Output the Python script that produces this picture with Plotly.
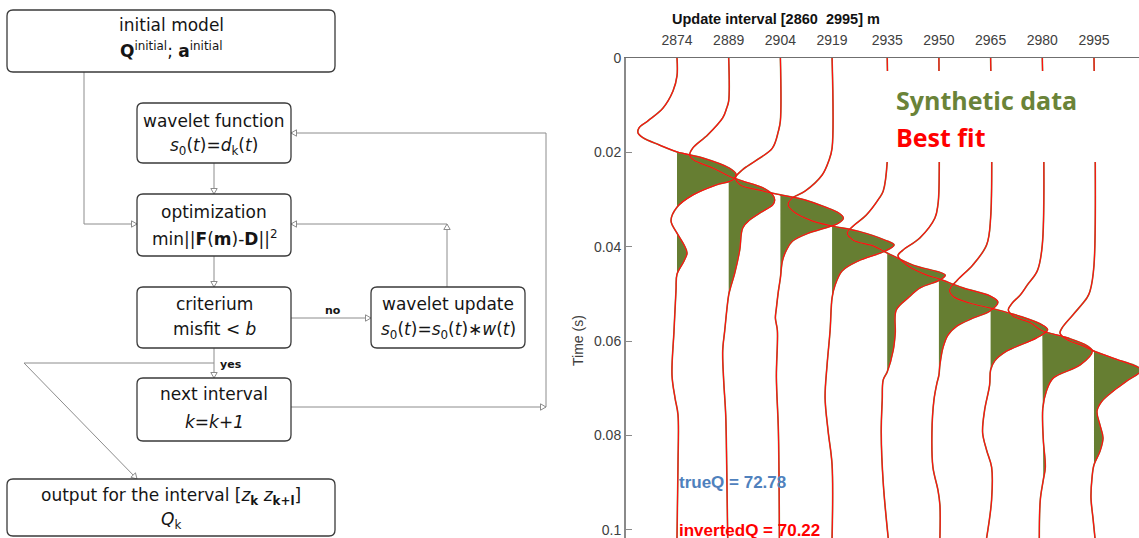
import plotly.graph_objects as go

W, H = 1139, 538

# ---------------- wiggle section: data ----------------
depths = [2874, 2889, 2904, 2919, 2935, 2950, 2965, 2980, 2995]
depth_labels = ["2874", "2889", "2904", "2919", "2935", "2950", "2965", "2980", "2995"]
time_ticks = [0, 0.02, 0.04, 0.06, 0.08, 0.1]
time_labels = ["0", "0.02", "0.04", "0.06", "0.08", "0.1"]

# per-trace samples: two-way time (s) and trace amplitude (arbitrary units)
time_2874 = [0, 0.0038, 0.0070, 0.0106, 0.0133, 0.0148, 0.0159, 0.0169, 0.0184, 0.0199, 0.0212, 0.0233,
             0.0246, 0.0258, 0.0269, 0.0290, 0.0316, 0.0345, 0.0371, 0.0396, 0.0413, 0.0430, 0.0458,
             0.0492, 0.0578, 0.0672, 0.0720, 0.0756, 0.0862, 0.1017]
amp_2874 = [0, 0, -0.4, -1.4, -2.9, -3.8, -3.9, -3.4, -1.8, 0, 2.6, 5.2,
            5.9, 5.6, 3.9, 1.6, 0, -0.6, 0, 0.7, 1.0, 0.7, 0,
            -0.1, -0.3, -0.5, -0.2, 0.1, 0.1, 0]

time_2889 = [0, 0.0091, 0.0106, 0.0127, 0.0163, 0.0191, 0.0206, 0.0216, 0.0233, 0.0250, 0.0261, 0.0275,
             0.0290, 0.0301, 0.0311, 0.0326, 0.0343, 0.0360, 0.0407, 0.0456, 0.0485, 0.0502, 0.0578,
             0.0621, 0.0684, 0.0756, 0.0862, 0.1017]
amp_2889 = [0, 0, -0.2, -0.6, -2.1, -3.6, -3.9, -3.5, -1.6, 0, 1.4, 3.4,
            4.4, 4.6, 4.4, 3.3, 2.1, 1.4, 1.1, 0.6, 0.2, 0, -0.4,
            -0.6, -0.5, -0.3, -0.2, -0.1]

time_2904 = [0, 0.0133, 0.0155, 0.0191, 0.0218, 0.0237, 0.0254, 0.0269, 0.0280, 0.0290, 0.0301, 0.0316,
             0.0328, 0.0339, 0.0350, 0.0360, 0.0371, 0.0388, 0.0407, 0.0430, 0.0466, 0.0494, 0.0530,
             0.0551, 0.0578, 0.0676, 0.0790, 0.1017]
amp_2904 = [0, 0, -0.2, -0.8, -2.5, -3.8, -4.5, -4.0, -2.1, 0, 2.5, 4.5,
            5.8, 6.3, 5.8, 4.5, 2.8, 1.2, 0.6, 0.2, 0, -0.2, -0.4,
            -0.5, -0.3, -0.4, -0.2, -0.1]

time_2919 = [0, 0.0191, 0.0216, 0.0248, 0.0282, 0.0297, 0.0311, 0.0328, 0.0345, 0.0356, 0.0367, 0.0386,
             0.0396, 0.0409, 0.0430, 0.0451, 0.0481, 0.0508, 0.0578, 0.0650, 0.0720, 0.0790, 0.0862,
             0.1017]
amp_2919 = [0, 0, -0.3, -1.0, -2.7, -4.0, -4.4, -3.7, -2.0, 0, 2.6, 5.3,
            6.2, 5.3, 2.6, 1.0, 0.3, 0, -0.2, -0.5, -0.7, -0.4, 0,
            0]

time_2935 = [0, 0.0220, 0.0282, 0.0297, 0.0333, 0.0356, 0.0371, 0.0386, 0.0398, 0.0413, 0.0439, 0.0460,
             0.0470, 0.0487, 0.0508, 0.0534, 0.0583, 0.0619, 0.0665, 0.0682, 0.0725, 0.0794, 0.0900,
             0.1017]
amp_2935 = [0, 0, -0.4, -0.8, -2.1, -3.4, -4.0, -3.4, -1.4, 0, 2.6, 5.8,
            5.3, 3.3, 2.1, 0.9, 0.8, 0.6, 0, -0.4, -0.5, -0.6, -0.4,
            0.1]

time_2950 = [0, 0.0282, 0.0311, 0.0339, 0.0381, 0.0407, 0.0419, 0.0439, 0.0460, 0.0468, 0.0487, 0.0504,
             0.0517, 0.0536, 0.0551, 0.0568, 0.0587, 0.0614, 0.0650, 0.0672, 0.0689, 0.0725, 0.0794,
             0.0867, 0.0915, 0.0947, 0.1017]
amp_2950 = [0, 0, -0.1, -0.4, -1.9, -3.6, -4.1, -3.2, -1.2, 0, 2.4, 5.1,
            5.9, 5.1, 3.4, 1.8, 0.9, 0.4, 0.1, 0, -0.2, -0.5, -0.7,
            -0.6, -0.1, 0.1, 0.1]

time_2965 = [0, 0.0339, 0.0396, 0.0439, 0.0470, 0.0492, 0.0506, 0.0519, 0.0530, 0.0547, 0.0566, 0.0576,
             0.0593, 0.0621, 0.0642, 0.0661, 0.0693, 0.0746, 0.0794, 0.0831, 0.0867, 0.0936, 0.1017]
amp_2965 = [0, 0, -0.4, -1.8, -3.3, -4.1, -3.7, -2.1, 0, 2.9, 5.2, 5.7,
            4.6, 1.6, 0.4, 0, -0.1, -0.6, -0.8, -0.4, 0.1, 0.1, -0.4]

time_2980 = [0, 0.0396, 0.0451, 0.0481, 0.0502, 0.0519, 0.0534, 0.0547, 0.0561, 0.0578, 0.0593, 0.0610,
             0.0621, 0.0650, 0.0678, 0.0706, 0.0742, 0.0809, 0.0867, 0.0894, 0.0936, 0.1017]
amp_2980 = [0, 0, -0.5, -1.5, -2.2, -3.0, -3.4, -2.9, -1.2, 0, 2.5, 4.5,
            5.0, 3.8, 1.1, 0.4, 0.05, 0.1, 0.3, 0.1, -0.2, -0.3]

time_2995 = [0, 0.0439, 0.0494, 0.0508, 0.0544, 0.0572, 0.0583, 0.0597, 0.0610, 0.0621, 0.0636, 0.0661,
             0.0684, 0.0706, 0.0727, 0.0748, 0.0778, 0.0805, 0.0833, 0.0862, 0.0890, 0.0932, 0.0975,
             0.1017]
amp_2995 = [0, 0, -0.4, -0.7, -2.1, -3.2, -3.4, -2.7, -1.1, 0, 1.9, 4.7,
            3.3, 1.9, 0.8, 0.3, 0.6, 0.9, 0.6, 0, -0.2, -0.3, -0.1,
            0.1]

trace_times = [time_2874, time_2889, time_2904, time_2919, time_2935,
               time_2950, time_2965, time_2980, time_2995]
trace_amps = [amp_2874, amp_2889, amp_2904, amp_2919, amp_2935,
              amp_2950, amp_2965, amp_2980, amp_2995]

true_q = 72.78
inverted_q = 70.22

GAIN = 2.9          # metres of offset per amplitude unit
FILL_GREEN = "#667e32"
LINE_RED = "#ff1010"
AXIS_GREY = "#8a8a8a"
TICK_TEXT = "#404040"
FLOW_LINE = "#8c8c8c"
BOX_EDGE = "#3a3a3a"
SANS = "Liberation Sans, Arial, sans-serif"
FLOW_FONT = "DejaVu Sans, Verdana, sans-serif"


def positive_lobes(t, a):
    """Split a trace into its positive excursions, each bounded by zero samples."""
    lobes, i, n = [], 0, len(a)
    while i < n:
        if a[i] > 0:
            j = i
            while j + 1 < n and a[j + 1] > 0:
                j += 1
            s = i - 1 if i > 0 and a[i - 1] == 0 else i
            e = j + 1 if j + 1 < n and a[j + 1] == 0 else j
            if max(a[i:j + 1]) >= 0.3:
                lobes.append((t[s:e + 1], a[s:e + 1]))
            i = j + 1
        else:
            i += 1
    return lobes


fig = go.Figure()

# positive lobes filled (variable-area display)
for d, t, a in zip(depths, trace_times, trace_amps):
    for lt, la in positive_lobes(t, a):
        fig.add_trace(go.Scatter(
            x=[d + GAIN * v for v in la], y=lt,
            mode="lines", line=dict(width=0, shape="spline"),
            fill="toself", fillcolor=FILL_GREEN, hoverinfo="skip"))

# synthetic data wiggles
for d, t, a in zip(depths, trace_times, trace_amps):
    fig.add_trace(go.Scatter(
        x=[d + GAIN * v for v in a], y=t, mode="lines",
        line=dict(color="#7a8a45", width=1.6, shape="spline"), hoverinfo="skip"))

# best-fit wiggles on top
for d, t, a in zip(depths, trace_times, trace_amps):
    fig.add_trace(go.Scatter(
        x=[d + GAIN * v for v in a], y=t, mode="lines",
        line=dict(color=LINE_RED, width=1.2, shape="spline"), hoverinfo="skip"))

x_lo, x_hi = 2859.2, 3008.06
fig.update_layout(
    width=W, height=H,
    margin=dict(l=0, r=0, t=0, b=0),
    paper_bgcolor="white", plot_bgcolor="white",
    showlegend=False,
    xaxis=dict(domain=[626 / W, 1], range=[x_lo, x_hi], side="top",
               tickvals=depths, ticktext=depth_labels, ticks="",
               showline=True, linecolor="#6f6f6f", linewidth=1,
               showgrid=False, zeroline=False, automargin=False,
               ticklabelstandoff=6,
               tickfont=dict(family=SANS, size=14, color=TICK_TEXT)),
    yaxis=dict(domain=[0, 480 / H], range=[0.1017, 0],
               tickvals=time_ticks, ticktext=time_labels,
               ticks="inside", ticklen=6, tickcolor=AXIS_GREY, tickwidth=1,
               showline=True, linecolor=AXIS_GREY, linewidth=2,
               showgrid=False, zeroline=False, automargin=False,
               tickfont=dict(family=SANS, size=14, color=TICK_TEXT)),
)


def px(x):
    return x / W


def py(y):
    return 1 - y / H


shapes = []
annotations = []

# white panel behind the legend text
shapes.append(dict(type="rect", xref="paper", yref="paper", layer="above",
                   x0=px(870), x1=1.0, y0=py(162), y1=py(71),
                   fillcolor="white", line=dict(width=0)))

annotations += [
    dict(text="<b>Update interval [2860\u00a0 2995] m</b>", x=px(882), y=py(19),
         font=dict(family=SANS, size=14.5, color="#111111")),
    dict(text="Time (s)", x=px(578), y=py(341), textangle=-90,
         font=dict(family=SANS, size=14, color=TICK_TEXT)),
    dict(text="<b>Synthetic data</b>", x=px(894), y=py(100), xanchor="left",
         font=dict(family="Open Sans, sans-serif", size=25, color="#6a8338")),
    dict(text="<b>Best fit</b>", x=px(894), y=py(137), xanchor="left",
         font=dict(family="Open Sans, sans-serif", size=25, color="#ff0000")),
    dict(text=f"<b>trueQ = {true_q:.2f}</b>", x=px(677), y=py(482), xanchor="left",
         font=dict(family=SANS, size=17, color="#4f81bd")),
    dict(text=f"<b>invertedQ = {inverted_q:.2f}</b>", x=px(677), y=py(530), xanchor="left",
         font=dict(family=SANS, size=17, color="#ff0000")),
]

# ---------------- flowchart ----------------


def rbox(x0, y0, x1, y1, r=6):
    rx, ry = r / W, r / H
    X0, X1, Y0, Y1 = px(x0), px(x1), py(y0), py(y1)
    path = (f"M{X0 + rx},{Y0} L{X1 - rx},{Y0} Q{X1},{Y0} {X1},{Y0 - ry} "
            f"L{X1},{Y1 + ry} Q{X1},{Y1} {X1 - rx},{Y1} "
            f"L{X0 + rx},{Y1} Q{X0},{Y1} {X0},{Y1 + ry} "
            f"L{X0},{Y0 - ry} Q{X0},{Y0} {X0 + rx},{Y0} Z")
    shapes.append(dict(type="path", xref="paper", yref="paper", path=path,
                       fillcolor="white", line=dict(color=BOX_EDGE, width=1.3)))


def seg(x0, y0, x1, y1):
    shapes.append(dict(type="line", xref="paper", yref="paper",
                       x0=px(x0), y0=py(y0), x1=px(x1), y1=py(y1),
                       line=dict(color=FLOW_LINE, width=1)))


def head(x, y, ux, uy, length=5.5, half=3.2):
    n = (ux * ux + uy * uy) ** 0.5
    ux, uy = ux / n, uy / n
    bx, by = x - ux * length, y - uy * length
    c1 = (bx - uy * half, by + ux * half)
    c2 = (bx + uy * half, by - ux * half)
    path = (f"M{px(x)},{py(y)} L{px(c1[0])},{py(c1[1])} "
            f"L{px(c2[0])},{py(c2[1])} Z")
    shapes.append(dict(type="path", xref="paper", yref="paper", path=path,
                       fillcolor="white", line=dict(color=FLOW_LINE, width=1)))


def label(text, x, y, size=17, anchor="center"):
    annotations.append(dict(text=text, x=px(x), y=py(y), xanchor=anchor,
                            font=dict(family=FLOW_FONT, size=size, color="#151515")))


# connectors
seg(84, 72, 84, 224); seg(84, 224, 137, 224); head(137, 224, 1, 0)
seg(214, 163, 214, 194); head(214, 194, 0, 1)
seg(214, 256, 214, 287); head(214, 287, 0, 1)
seg(291, 318, 371, 318); head(371, 318, 1, 0)
seg(447, 287, 447, 224); head(447, 224, 0, -1)
seg(447, 224, 291, 224); head(291, 224, -1, 0)
seg(214, 348, 214, 378); head(214, 378, 0, 1)
seg(214, 363, 24, 363); seg(24, 363, 137, 479); head(137, 479, 113, 116)
seg(291, 407, 546, 407); head(546, 407, 1, 0)
seg(546, 407, 546, 133); seg(546, 133, 291, 133); head(291, 133, -1, 0)

# boxes
rbox(7, 10, 335, 72)
rbox(137, 103, 291, 163)
rbox(137, 194, 291, 256)
rbox(137, 287, 291, 348)
rbox(371, 287, 525, 348)
rbox(137, 378, 291, 441)
rbox(7, 479, 335, 536)

label("initial model", 171, 25)
label("<b>Q</b><sup>initial</sup>; <b>a</b><sup>initial</sup>", 171, 50)
label("wavelet function", 214, 121)
label("<i>s</i><sub>0</sub>(<i>t</i>)=<i>d</i><sub>k</sub>(<i>t</i>)", 214, 146)
label("optimization", 214, 212)
label("min||<b>F</b>(<b>m</b>)-<b>D</b>||<sup>2</sup>", 214, 238)
label("criterium", 214, 304)
label("misfit &lt; <i>b</i>", 214, 329)
label("wavelet update", 448, 304)
label("<i>s</i><sub>0</sub>(<i>t</i>)=<i>s</i><sub>0</sub>(<i>t</i>)\u2217<i>w</i>(<i>t</i>)", 448, 330)
label("next interval", 214, 394)
label("<i>k</i>=<i>k</i>+<i>1</i>", 214, 422)
label("output for the interval [<i>z</i><sub><b>k</b></sub> <i>z</i><sub><b>k+l</b></sub>]", 171, 496)
label("<i>Q</i><sub>k</sub>", 171, 520)
label("<b>no</b>", 333, 310, size=11)
label("<b>yes</b>", 218, 364, size=11, anchor="left")

fig.update_layout(shapes=shapes,
                  annotations=[dict(a, showarrow=False, xref="paper", yref="paper",
                                    yanchor="middle") for a in annotations])

fig.write_html("out.html")
